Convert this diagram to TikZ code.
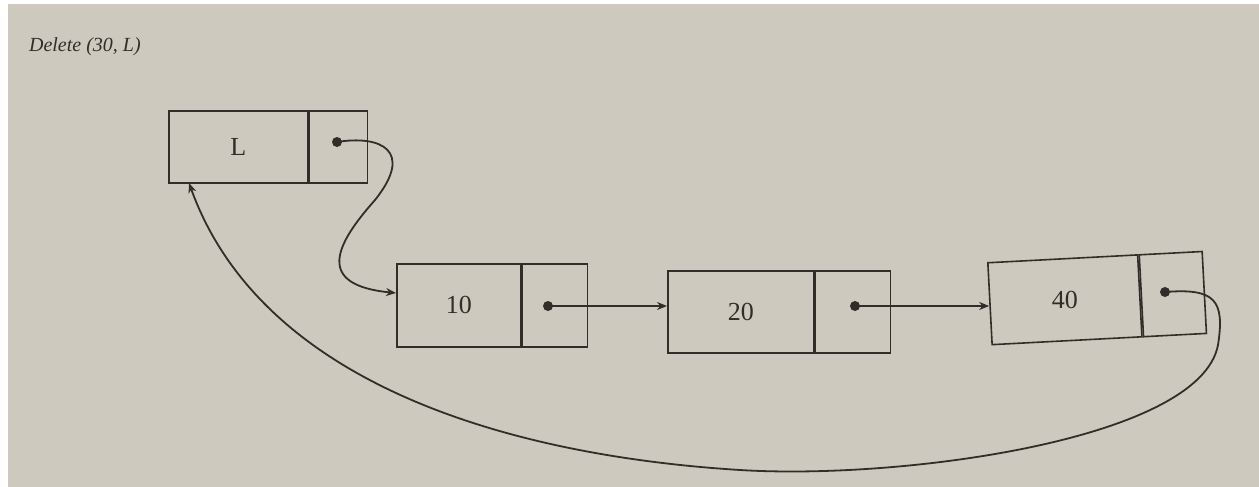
\documentclass[tikz,border=0pt]{standalone}
\usepackage{fontspec}
\setmainfont{Liberation Serif}
\usetikzlibrary{arrows.meta}
\definecolor{paper}{RGB}{206,201,190}
\definecolor{ink}{RGB}{50,45,40}
\tikzset{
  cell/.style={draw=ink, line width=0.8pt, minimum height=36pt, inner sep=0pt},
  lbl/.style={text=ink, font=\fontsize{13}{15}\selectfont},
  link/.style={draw=ink, line width=0.9pt, -{Stealth[length=5pt,width=4pt]}},
  dotc/.style={circle, fill=ink, inner sep=0pt, minimum size=5pt},
}
\begin{document}
\begin{tikzpicture}[x=0.5pt,y=-0.5pt]
\useasboundingbox (0,0) rectangle (1259,487);
\fill[paper] (0,0) rectangle (1259,487);
\fill[white] (0,0) rectangle (8,487);
\fill[white] (0,0) rectangle (1259,4);

\node[anchor=west, text=ink, font=\itshape\fontsize{10}{12}\selectfont] (title) at (22,47) {Delete (30, L)};

% L node
\node[cell, minimum width=69.5pt, anchor=north west] (Ld) at (168,110) {};
\node[cell, minimum width=29pt, anchor=north west] (Lp) at (Ld.north east) {};
\node[lbl] (Lt) at (Ld.center) {L};
\node[dotc] (Ldot) at (337,142) {};

% 10 node
\node[cell, minimum width=62pt, minimum height=41.5pt, anchor=north west] (Ad) at (396,263) {};
\node[cell, minimum width=32.5pt, minimum height=41.5pt, anchor=north west] (Ap) at (Ad.north east) {};
\node[lbl] (At) at (Ad.center) {10};
\node[dotc] (Adot) at (548,306) {};

% 20 node
\node[cell, minimum width=73pt, minimum height=41pt, anchor=north west] (Bd) at (667,270) {};
\node[cell, minimum width=37.5pt, minimum height=41pt, anchor=north west] (Bp) at (Bd.north east) {};
\node[lbl] (Bt) at (Bd.center) {20};
\node[dotc] (Bdot) at (855,306) {};

% 40 node (slightly tilted in photo)
\node[cell, minimum width=75pt, minimum height=41pt, anchor=north west, rotate=3] (Cd) at (987,262) {};
\node[cell, minimum width=31.5pt, minimum height=41pt, anchor=north west, rotate=3] (Cp) at (Cd.north east) {};
\node[lbl] (Ct) at (Cd.center) {40};
\node[dotc] (Cdot) at (1165,292) {};

\coordinate (Ain) at (396,293);
\coordinate (Lin) at (189,183);

\draw[link] (Ldot.center) .. controls (380,135) and (415,150) .. (375,200)
  .. controls (335,245) and (315,285) .. (Ain);
\draw[link] (Adot.center) -- (Bd.west |- Adot);
\draw[link] (Bdot.center) -- (Cd.west |- Bdot);
\draw[link] (Cdot.center) .. controls (1215,288) and (1225,300) .. (1218,345)
  .. controls (1200,440) and (900,480) .. (740,470)
  .. controls (500,455) and (260,380) .. (Lin);
\end{tikzpicture}
\end{document}
